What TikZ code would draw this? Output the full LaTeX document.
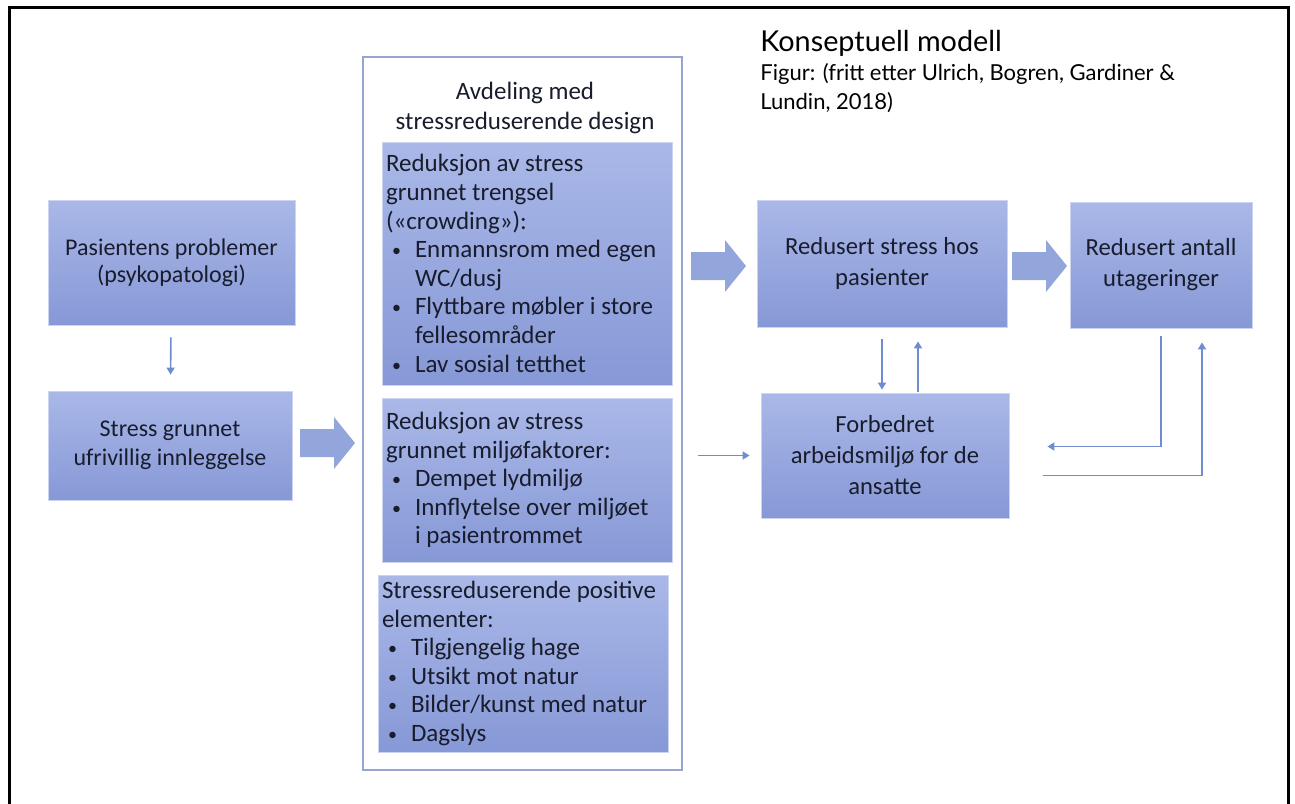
\documentclass[tikz,border=0pt]{standalone}
\usepackage{fontspec}
\setmainfont{Carlito}
\newfontfamily\headfont{Lato}
\usetikzlibrary{arrows.meta}

\definecolor{boxtop}{RGB}{170,184,232}
\definecolor{boxbot}{RGB}{134,152,214}
\definecolor{linec}{RGB}{112,140,208}
\definecolor{arrc}{RGB}{146,166,220}
\definecolor{framec}{RGB}{150,165,205}
\definecolor{txt}{RGB}{24,28,44}

\newcommand{\bl}{\hspace*{3pt}\makebox[11.5pt][l]{\raisebox{0.5pt}{\fontsize{9}{9}\selectfont\textbullet}}}
\newcommand{\cont}{\hspace*{14.5pt}}

\tikzset{
  box/.style={top color=boxtop, bottom color=boxbot, draw=boxtop!60!white,
    line width=0.4pt, text=txt, align=center, inner sep=0pt},
  inbox/.style={box, align=flush left, inner xsep=2pt, text width=141pt,
    font=\fontsize{12.5}{14.3}\selectfont},
  conn/.style={draw=linec, line width=0.8pt, -{Triangle[length=3.5pt,width=4pt]}},
  barrow/.pic={\fill[arrc] (0,-14) -- (34,-14) -- (34,-26) -- (55,0) -- (34,26) -- (34,14) -- (0,14) -- cycle;}
}

\begin{document}
\begin{tikzpicture}[x=0.5pt,y=-0.5pt]
    \useasboundingbox (0,0) rectangle (1295,803);
    \draw[line width=1.5pt] (9,810) -- (9,7) -- (1288,7) -- (1288,810);

    % title
    \node[anchor=west, inner sep=0pt, font=\headfont\fontsize{14.4}{16}\selectfont] (head) at (760,43) {Konseptuell modell};
    \node[anchor=north west, inner sep=0pt, align=left, font=\headfont\fontsize{11}{14.5}\selectfont] (cite) at (760,63) {Figur: (fritt etter Ulrich, Bogren, Gardiner \&\\Lundin, 2018)};

    % left column
    \node[box, minimum width=123.5pt, minimum height=62.5pt, font=\fontsize{12}{13.5}\selectfont] (prob) at (171.5,262.5) {Pasientens problemer\\(psykopatologi)};
    \node[box, minimum width=122pt, minimum height=54.5pt, font=\fontsize{12}{14.5}\selectfont] (stress) at (170,445.5) {Stress grunnet\\ufrivillig innleggelse};
    \pic at (300,443) {barrow};

    % ward
    \node[draw=framec, line width=1pt, fill=white, minimum width=159.5pt, minimum height=356.5pt, inner sep=0pt] (ward) at (522.5,413.5) {};
    \node[text=txt, align=center, inner sep=0pt, font=\fontsize{12.5}{15}\selectfont] (wardtitle) at (525,108) {Avdeling med\\stressreduserende design};
    \node[inbox, minimum height=121.5pt] (crowd) at (527,263.5) {Reduksjon av stress\\grunnet trengsel\\(«crowding»):\\
      \bl Enmannsrom med egen\\\cont WC/dusj\\\bl Flyttbare møbler i store\\\cont fellesområder\\\bl Lav sosial tetthet};
    \node[inbox, minimum height=82pt] (env) at (527,480) {Reduksjon av stress\\grunnet miljøfaktorer:\\
      \bl Dempet lydmiljø\\\bl Innflytelse over miljøet\\\cont i pasientrommet};
    \node[inbox, minimum height=88.5pt] (pos) at (523,663.5) {Stressreduserende positive\\elementer:\\
      \bl Tilgjengelig hage\\\bl Utsikt mot natur\\\bl Bilder/kunst med natur\\\bl Dagslys};

    % outcomes
    \node[box, minimum width=125pt, minimum height=63.5pt, font=\fontsize{12.3}{15.5}\selectfont] (calm) at (882,263.5) {Redusert stress hos\\pasienter};
    \node[box, minimum width=91pt, minimum height=63pt, font=\fontsize{12.3}{15.5}\selectfont] (fewer) at (1161,265) {Redusert antall\\utageringer};
    \node[box, minimum width=124pt, minimum height=62.5pt, font=\fontsize{12.3}{15.5}\selectfont] (staff) at (885,455.5) {Forbedret\\arbeidsmiljø for de\\ansatte};
    \pic at (691,266) {barrow};
    \pic at (1012,266) {barrow};

    % connectors
    \draw[conn, shorten <=6pt, shorten >=8pt] (prob) -- (stress);
    \draw[conn, shorten <=6pt, shorten >=1.5pt] (calm.south) -- (calm.south |- staff.north);
    \draw[conn, shorten <=0.5pt, shorten >=7pt] ([xshift=18pt]calm.south |- staff.north) -- ([xshift=18pt]calm.south);
    \draw[conn, shorten >=5.5pt] ([xshift=7.5pt]ward.east |- staff.west) -- (staff.west);
    \draw[conn, shorten <=4pt] (fewer.south) |- ([xshift=19pt,yshift=4.5pt]staff.east);
    \draw[conn, shorten >=7pt] ([xshift=17pt,yshift=-10pt]staff.east) -| ([xshift=20.5pt]fewer.south);
\end{tikzpicture}
\end{document}
